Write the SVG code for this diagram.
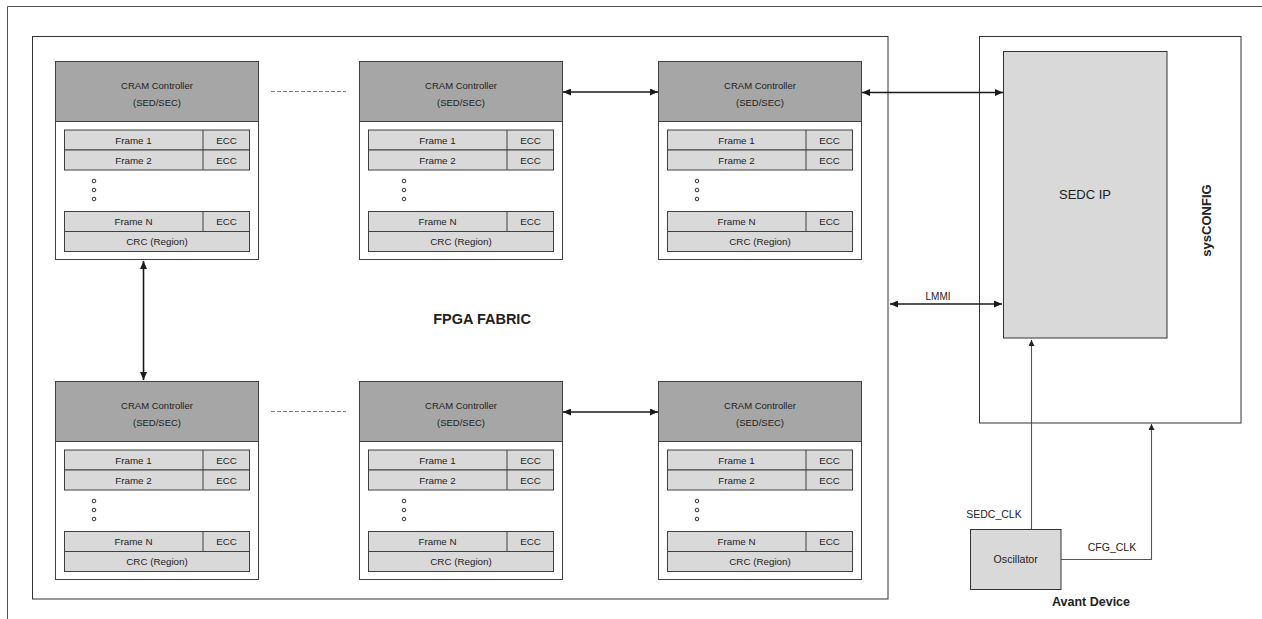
<svg xmlns="http://www.w3.org/2000/svg" width="1262" height="619" viewBox="0 0 1262 619">
<defs>
<style>
.t{font-family:"Liberation Sans",Arial,sans-serif;fill:#222;text-anchor:middle}
.hdr{fill:#a6a6a6;stroke:#404040;stroke-width:1}
.blk{fill:#fff;stroke:#404040;stroke-width:1}
.row{fill:#d9d9d9;stroke:#404040;stroke-width:1}
.s9{font-size:9.5px}
.s10{font-size:9.8px}
.dot{fill:#fff;stroke:#333;stroke-width:1}
.con{stroke:#1a1a1a;stroke-width:1.6;fill:none}
.thin{stroke:#555;stroke-width:1.1;fill:none}
.dash{stroke:#808080;stroke-width:1.2;stroke-dasharray:4 2;fill:none}
</style>
<marker id="ah" viewBox="0 0 8 7" refX="8" refY="3.5" markerWidth="8" markerHeight="7" markerUnits="userSpaceOnUse" orient="auto-start-reverse"><path d="M0,0 L8,3.5 L0,7 z" fill="#1a1a1a"/></marker>
<marker id="ahs" viewBox="0 0 6 6" refX="6" refY="3" markerWidth="6" markerHeight="6" markerUnits="userSpaceOnUse" orient="auto-start-reverse"><path d="M0,0 L6,3 L0,6 z" fill="#222"/></marker>
<g id="cram">
<rect class="blk" x="0" y="0" width="203" height="198"/>
<rect class="hdr" x="0" y="0" width="203" height="60"/>
<text class="t s9" x="101.5" y="27.5">CRAM Controller</text>
<text class="t s9" x="101.5" y="44">(SED/SEC)</text>
<rect class="row" x="9" y="68.5" width="185" height="20"/>
<line x1="147.5" y1="68.5" x2="147.5" y2="88.5" stroke="#404040"/>
<rect class="row" x="9" y="88.5" width="185" height="20"/>
<line x1="147.5" y1="88.5" x2="147.5" y2="108.5" stroke="#404040"/>
<text class="t s10" x="78" y="82">Frame 1</text>
<text class="t s10" x="171" y="82">ECC</text>
<text class="t s10" x="78" y="102">Frame 2</text>
<text class="t s10" x="171" y="102">ECC</text>
<rect class="row" x="9" y="150" width="185" height="20"/>
<line x1="147.5" y1="150" x2="147.5" y2="170" stroke="#404040"/>
<rect class="row" x="9" y="170" width="185" height="20"/>
<text class="t s10" x="78" y="163.5">Frame N</text>
<text class="t s10" x="171" y="163.5">ECC</text>
<text class="t s10" x="101.5" y="183.5">CRC (Region)</text>
</g>
</defs>

<g id="outer-frame">
<path d="M1262,6.5 H7.5 V619" fill="none" stroke="#555" stroke-width="1"/>
</g>

<g id="fpga-fabric">
<rect x="32.5" y="36.5" width="855.5" height="562.5" fill="none" stroke="#333" stroke-width="1"/>
<text class="t" x="482" y="324" style="font-size:14.5px;font-weight:bold">FPGA FABRIC</text>
</g>

<g id="cram-top-1"><use href="#cram" x="55.5" y="61.5"/><circle class="dot" cx="94" cy="181" r="1.8"/><circle class="dot" cx="94" cy="190" r="1.8"/><circle class="dot" cx="94" cy="199" r="1.8"/></g>
<g id="cram-top-2"><use href="#cram" x="359.5" y="61.5"/><circle class="dot" cx="404" cy="181" r="1.8"/><circle class="dot" cx="404" cy="190" r="1.8"/><circle class="dot" cx="404" cy="199" r="1.8"/></g>
<g id="cram-top-3"><use href="#cram" x="658.5" y="61.5"/><circle class="dot" cx="697" cy="181" r="1.8"/><circle class="dot" cx="697" cy="190" r="1.8"/><circle class="dot" cx="697" cy="199" r="1.8"/></g>
<g id="cram-bot-1"><use href="#cram" x="55.5" y="381.5"/><circle class="dot" cx="94" cy="501" r="1.8"/><circle class="dot" cx="94" cy="510" r="1.8"/><circle class="dot" cx="94" cy="519" r="1.8"/></g>
<g id="cram-bot-2"><use href="#cram" x="359.5" y="381.5"/><circle class="dot" cx="404" cy="501" r="1.8"/><circle class="dot" cx="404" cy="510" r="1.8"/><circle class="dot" cx="404" cy="519" r="1.8"/></g>
<g id="cram-bot-3"><use href="#cram" x="658.5" y="381.5"/><circle class="dot" cx="697" cy="501" r="1.8"/><circle class="dot" cx="697" cy="510" r="1.8"/><circle class="dot" cx="697" cy="519" r="1.8"/></g>

<g id="sysconfig">
<rect x="979.5" y="36.5" width="261.5" height="386.5" fill="#fff" stroke="#333" stroke-width="1"/>
<text class="t" transform="translate(1211,220.5) rotate(-90)" style="font-size:13px;font-weight:bold">sysCONFIG</text>
</g>

<g id="sedc-ip">
<rect x="1003.5" y="51.5" width="163.5" height="286.5" fill="#d9d9d9" stroke="#333" stroke-width="1"/>
<text class="t" x="1085" y="199" style="font-size:13px">SEDC IP</text>
</g>

<g id="oscillator">
<rect x="970.5" y="529.5" width="90.5" height="60" fill="#d9d9d9" stroke="#333" stroke-width="1"/>
<text class="t" x="1015.7" y="562.5" style="font-size:10.6px">Oscillator</text>
</g>

<g id="avant-device">
<text class="t" x="1091" y="606" style="font-size:12.5px;font-weight:bold">Avant Device</text>
</g>

<g id="connectors">
<line class="dash" x1="271" y1="91.5" x2="346" y2="91.5"/>
<line class="dash" x1="271" y1="411.5" x2="346" y2="411.5"/>
<line class="con" x1="563" y1="92" x2="658" y2="92" marker-start="url(#ah)" marker-end="url(#ah)"/>
<line class="con" x1="563" y1="412" x2="658" y2="412" marker-start="url(#ah)" marker-end="url(#ah)"/>
<line class="con" x1="862" y1="92.5" x2="1003" y2="92.5" marker-start="url(#ah)" marker-end="url(#ah)"/>
<line class="con" x1="143.5" y1="261" x2="143.5" y2="380" marker-start="url(#ah)" marker-end="url(#ah)"/>
<line class="con" x1="890" y1="304" x2="1002" y2="304" marker-start="url(#ah)" marker-end="url(#ah)"/>
<text class="t" x="938" y="299.5" style="font-size:10px">LMMI</text>
<line class="thin" x1="1031.5" y1="529" x2="1031.5" y2="340" marker-end="url(#ahs)"/>
<text class="t" x="994" y="518" style="font-size:10.5px">SEDC_CLK</text>
<path class="thin" d="M1061,559.5 H1151.5 V424" marker-end="url(#ahs)"/>
<text class="t" x="1112" y="551" style="font-size:10.5px">CFG_CLK</text>
</g>
</svg>
